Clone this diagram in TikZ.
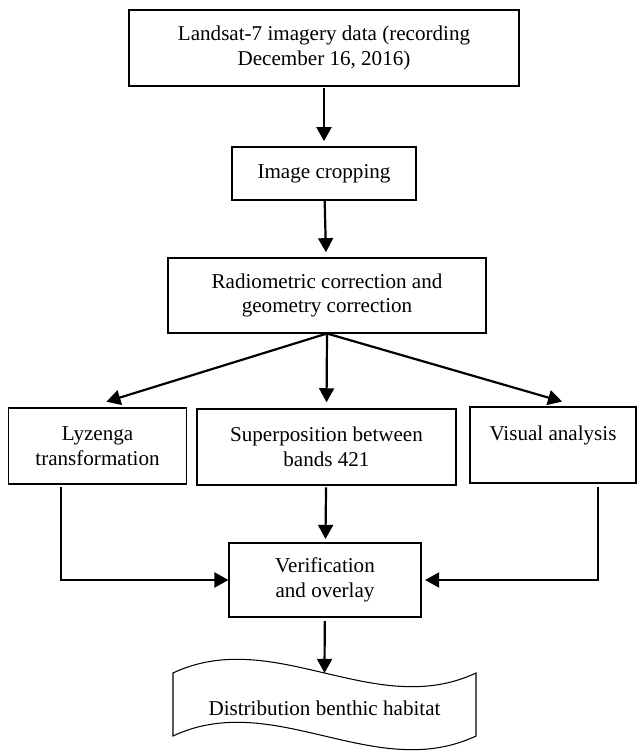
\documentclass[tikz,border=0pt]{standalone}
\usepackage{fontspec}
\setmainfont{Liberation Serif}
\usetikzlibrary{
    arrows.meta,
    positioning,
    calc
}
\tikzset{
  block/.style = {draw, line width=0.6pt, align=center, inner sep=2pt},
  arr/.style   = {-{Triangle[length=8pt, width=8.5pt]}, line width=1.25pt}
}

\begin{document}
\begin{tikzpicture}[
  every node/.style={font=\fontsize{12}{14}\selectfont}]
  \useasboundingbox (0,0) rectangle (12.76,15.02);

  \node[block, minimum width=7.8cm, minimum height=1.52cm] (landsat) at (6.48,14.06)
    {Landsat-7 imagery data (recording\\December 16, 2016)};
  \node[block, minimum width=3.68cm, minimum height=1.06cm] (crop) at (6.48,11.55)
    {Image cropping};
  \node[block, minimum width=6.36cm, minimum height=1.5cm] (radio) at (6.54,9.11)
    {Radiometric correction and\\geometry correction};

  \node[block, minimum width=3.56cm, minimum height=1.52cm] (lyz) at (1.95,6.1)
    {Lyzenga\\transformation};
  \node[block, minimum width=5.18cm, minimum height=1.52cm] (super) at (6.53,6.08)
    {Superposition between\\bands 421};
  \node[block, minimum width=3.32cm, minimum height=1.52cm] (visual) at (11.06,6.12)
    {Visual analysis\\\mbox{}};

  \node[block, minimum width=3.84cm, minimum height=1.48cm] (verif) at (6.5,3.42)
    {Verification\\and overlay};

  % output document
  \node (dist) at (6.49,0.86) {Distribution benthic habitat};
  \draw[line width=0.6pt] (3.46,1.56) .. controls (5.48,2.51) and (7.5,0.61) .. (9.52,1.56)
    -- (9.52,0.3) .. controls (7.5,-0.65) and (5.48,1.25) .. (3.46,0.3) -- cycle;
  \coordinate (doctop) at (6.49,1.56);

  \coordinate (lyzout) at (1.22,5.28);
  \coordinate (visout) at (11.96,5.28);

  \draw[arr, shorten <=1pt, shorten >=3pt] (landsat) -- (crop);
  \draw[arr, shorten >=3pt] (crop) -- (radio);
  \draw[arr, shorten >=11pt] (radio.south) -- (lyz.104);
  \draw[arr, shorten >=3.5pt] (radio.south) -- (super.north);
  \draw[arr, shorten >=10pt] (radio.south) -- (visual.56);
  \draw[arr, shorten <=1pt, shorten >=2pt] (super) -- (verif);
  \draw[arr] (lyzout) |- (verif.west);
  \draw[arr, shorten >=2pt] (visout) |- (verif.east);
  \draw[arr, shorten <=2pt] (verif) -- (doctop);
\end{tikzpicture}
\end{document}
